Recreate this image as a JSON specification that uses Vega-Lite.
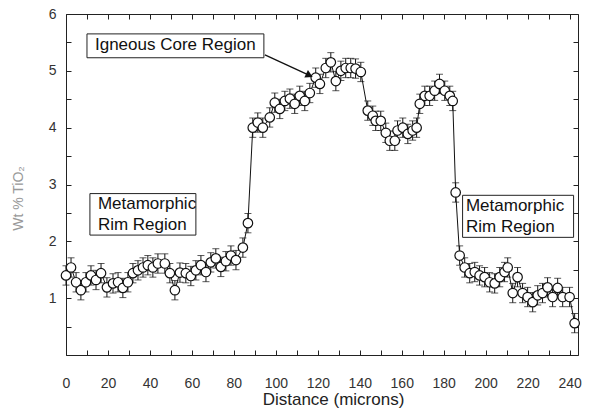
{
  "$schema": "https://vega.github.io/schema/vega-lite/v6.json",
  "width": 512,
  "height": 341,
  "autosize": {"type": "none"},
  "padding": {"left": 66, "top": 14, "right": 11, "bottom": 63},
  "background": "white",
  "config": {
    "font": "Liberation Sans",
    "view": {"stroke": "#222", "strokeWidth": 1},
    "axis": {"grid": false, "domain": false, "tickColor": "#222", "labelColor": "#333", "labelFont": "Liberation Sans", "titleFont": "Liberation Sans", "titleFontWeight": "normal"}
  },
  "resolve": {"axis": {"x": "independent", "y": "independent"}},
  "datasets": {
    "pts": [
      {"d": 0, "v": 1.40, "e": 0.17}, {"d": 2.4, "v": 1.54, "e": 0.17}, {"d": 4.8, "v": 1.28, "e": 0.17}, {"d": 7.1, "v": 1.14, "e": 0.17},
      {"d": 9.5, "v": 1.28, "e": 0.17}, {"d": 11.9, "v": 1.40, "e": 0.17}, {"d": 14.3, "v": 1.32, "e": 0.17}, {"d": 16.7, "v": 1.44, "e": 0.17},
      {"d": 19.5, "v": 1.19, "e": 0.17}, {"d": 22.4, "v": 1.26, "e": 0.17}, {"d": 24.8, "v": 1.28, "e": 0.17}, {"d": 27.1, "v": 1.18, "e": 0.17},
      {"d": 29.5, "v": 1.28, "e": 0.17}, {"d": 31.9, "v": 1.44, "e": 0.17}, {"d": 34.3, "v": 1.49, "e": 0.17}, {"d": 36.7, "v": 1.54, "e": 0.17},
      {"d": 39.0, "v": 1.58, "e": 0.17}, {"d": 41.4, "v": 1.54, "e": 0.17}, {"d": 43.8, "v": 1.61, "e": 0.17}, {"d": 47.1, "v": 1.61, "e": 0.17},
      {"d": 49.5, "v": 1.44, "e": 0.17}, {"d": 51.9, "v": 1.14, "e": 0.17}, {"d": 54.3, "v": 1.45, "e": 0.17}, {"d": 57.1, "v": 1.44, "e": 0.17},
      {"d": 59.5, "v": 1.39, "e": 0.17}, {"d": 61.9, "v": 1.49, "e": 0.17}, {"d": 64.3, "v": 1.58, "e": 0.17}, {"d": 66.7, "v": 1.46, "e": 0.17},
      {"d": 69.0, "v": 1.63, "e": 0.17}, {"d": 71.4, "v": 1.70, "e": 0.17}, {"d": 73.8, "v": 1.55, "e": 0.17}, {"d": 76.2, "v": 1.65, "e": 0.17},
      {"d": 78.6, "v": 1.75, "e": 0.17}, {"d": 81.0, "v": 1.67, "e": 0.17}, {"d": 84.3, "v": 1.89, "e": 0.17}, {"d": 86.7, "v": 2.32, "e": 0.17},
      {"d": 89.0, "v": 4.00, "e": 0.17}, {"d": 91.4, "v": 4.09, "e": 0.17}, {"d": 93.8, "v": 4.00, "e": 0.17}, {"d": 97.1, "v": 4.18, "e": 0.17},
      {"d": 99.5, "v": 4.44, "e": 0.17}, {"d": 101.9, "v": 4.33, "e": 0.17}, {"d": 104.3, "v": 4.47, "e": 0.17}, {"d": 106.7, "v": 4.51, "e": 0.17},
      {"d": 109.0, "v": 4.42, "e": 0.17}, {"d": 111.4, "v": 4.56, "e": 0.17}, {"d": 113.8, "v": 4.47, "e": 0.17}, {"d": 116.2, "v": 4.61, "e": 0.17},
      {"d": 119.0, "v": 4.88, "e": 0.17}, {"d": 121.0, "v": 4.77, "e": 0.17}, {"d": 123.8, "v": 5.05, "e": 0.17}, {"d": 126.2, "v": 5.15, "e": 0.17},
      {"d": 128.6, "v": 4.82, "e": 0.17}, {"d": 131.0, "v": 5.00, "e": 0.17}, {"d": 133.3, "v": 5.05, "e": 0.17}, {"d": 135.7, "v": 5.05, "e": 0.17},
      {"d": 138.0, "v": 5.04, "e": 0.17}, {"d": 140.5, "v": 4.98, "e": 0.17}, {"d": 143.8, "v": 4.30, "e": 0.17}, {"d": 146.2, "v": 4.21, "e": 0.17},
      {"d": 147.6, "v": 4.12, "e": 0.17}, {"d": 150.0, "v": 4.12, "e": 0.17}, {"d": 152.4, "v": 3.91, "e": 0.17}, {"d": 154.3, "v": 3.77, "e": 0.17},
      {"d": 156.7, "v": 3.77, "e": 0.17}, {"d": 158.0, "v": 3.95, "e": 0.17}, {"d": 160.5, "v": 4.00, "e": 0.17}, {"d": 162.9, "v": 3.89, "e": 0.17},
      {"d": 165.2, "v": 3.95, "e": 0.17}, {"d": 167.1, "v": 4.00, "e": 0.17}, {"d": 168.6, "v": 4.42, "e": 0.17}, {"d": 171.0, "v": 4.56, "e": 0.17},
      {"d": 173.3, "v": 4.56, "e": 0.17}, {"d": 175.7, "v": 4.65, "e": 0.17}, {"d": 178.0, "v": 4.77, "e": 0.17}, {"d": 180.5, "v": 4.65, "e": 0.17},
      {"d": 182.9, "v": 4.56, "e": 0.17}, {"d": 184.3, "v": 4.47, "e": 0.17}, {"d": 185.7, "v": 2.86, "e": 0.17}, {"d": 187.6, "v": 1.75, "e": 0.17},
      {"d": 190.0, "v": 1.54, "e": 0.17}, {"d": 192.4, "v": 1.44, "e": 0.17}, {"d": 194.8, "v": 1.46, "e": 0.17}, {"d": 197.1, "v": 1.40, "e": 0.17},
      {"d": 199.5, "v": 1.37, "e": 0.17}, {"d": 201.9, "v": 1.28, "e": 0.17}, {"d": 204.3, "v": 1.26, "e": 0.17}, {"d": 206.7, "v": 1.37, "e": 0.17},
      {"d": 209.0, "v": 1.46, "e": 0.17}, {"d": 210.5, "v": 1.54, "e": 0.17}, {"d": 212.9, "v": 1.09, "e": 0.17}, {"d": 215.2, "v": 1.37, "e": 0.17},
      {"d": 217.6, "v": 1.09, "e": 0.17}, {"d": 220.0, "v": 1.02, "e": 0.17}, {"d": 222.4, "v": 0.93, "e": 0.17}, {"d": 224.8, "v": 1.05, "e": 0.17},
      {"d": 227.1, "v": 1.09, "e": 0.17}, {"d": 229.5, "v": 1.19, "e": 0.17}, {"d": 231.9, "v": 1.02, "e": 0.17}, {"d": 234.3, "v": 1.18, "e": 0.17},
      {"d": 236.7, "v": 1.02, "e": 0.17}, {"d": 240.0, "v": 1.02, "e": 0.17}, {"d": 242.4, "v": 0.56, "e": 0.17}
    ],
    "boxes": [
      {"d": 10.0, "d2": 94.3, "v": 5.65, "v2": 5.23},
      {"d": 11.4, "d2": 61.9, "v": 2.84, "v2": 2.11},
      {"d": 189.0, "d2": 241.9, "v": 2.81, "v2": 2.07}
    ],
    "labels": [
      {"d": 13.8, "v": 5.45, "t": "Igneous Core Region"},
      {"d": 15.2, "v": 2.65, "t": "Metamorphic\nRim Region"},
      {"d": 190.6, "v": 2.63, "t": "Metamorphic\nRim Region"}
    ],
    "arrow": [{"d": 94.8, "v": 5.28, "d2": 116.0, "v2": 4.92}]
  },
  "layer": [
    {
      "data": {"name": "pts"},
      "mark": {"type": "errorbar", "color": "#111", "thickness": 1, "ticks": {"size": 7, "thickness": 1}},
      "encoding": {
        "x": {"field": "d", "type": "quantitative", "scale": {"domain": [0, 244], "nice": false, "zero": false}, "axis": null},
        "y": {"field": "v", "type": "quantitative", "scale": {"domain": [0, 6], "nice": false}, "axis": null},
        "yError": {"field": "e"}
      }
    },
    {
      "data": {"name": "pts"},
      "mark": {"type": "line", "color": "#111", "strokeWidth": 1},
      "encoding": {
        "x": {"field": "d", "type": "quantitative", "scale": {"domain": [0, 244], "nice": false, "zero": false},
          "axis": {"orient": "bottom", "title": "Distance (microns)", "values": [0,10,20,30,40,50,60,70,80,90,100,110,120,130,140,150,160,170,180,190,200,210,220,230,240],
            "labelExpr": "datum.value % 20 === 0 ? datum.label : ''", "tickSize": -5, "labelPadding": 26, "labelFontSize": 14, "labelFlush": false,
            "titleFontSize": 17, "titleColor": "#222", "titlePadding": 1, "titleX": 267}},
        "y": {"field": "v", "type": "quantitative", "scale": {"domain": [0, 6], "nice": false},
          "axis": {"orient": "left", "title": "Wt % TiO₂", "values": [0,0.5,1,1.5,2,2.5,3,3.5,4,4.5,5,5.5,6],
            "labelExpr": "datum.value % 1 === 0 && datum.value > 0 ? format(datum.value, 'd') : ''", "tickSize": -5, "labelPadding": 15, "labelFontSize": 14, "labelFlush": false,
            "titleFontSize": 14, "titleColor": "#999", "titleX": -48, "titleY": 184, "titleAngle": -90, "titleAlign": "center", "titleBaseline": "middle"}}
      }
    },
    {
      "data": {"name": "pts"},
      "mark": {"type": "point", "shape": "circle", "filled": false, "fill": "white", "fillOpacity": 1, "stroke": "#111", "strokeWidth": 1.2, "size": 90, "opacity": 1},
      "encoding": {
        "x": {"field": "d", "type": "quantitative", "scale": {"domain": [0, 244], "nice": false, "zero": false},
          "axis": {"orient": "top", "title": null, "values": [0,10,20,30,40,50,60,70,80,90,100,110,120,130,140,150,160,170,180,190,200,210,220,230,240], "labels": false, "tickSize": -5}},
        "y": {"field": "v", "type": "quantitative", "scale": {"domain": [0, 6], "nice": false},
          "axis": {"orient": "right", "title": null, "values": [0,0.5,1,1.5,2,2.5,3,3.5,4,4.5,5,5.5,6], "labels": false, "tickSize": -5}}
      }
    },
    {
      "data": {"name": "boxes"},
      "mark": {"type": "rect", "fill": "white", "stroke": "#222", "strokeWidth": 1},
      "encoding": {
        "x": {"field": "d", "type": "quantitative", "scale": {"domain": [0, 244], "nice": false, "zero": false}, "axis": null},
        "x2": {"field": "d2"},
        "y": {"field": "v", "type": "quantitative", "scale": {"domain": [0, 6], "nice": false}, "axis": null},
        "y2": {"field": "v2"}
      }
    },
    {
      "data": {"name": "labels"},
      "mark": {"type": "text", "align": "left", "baseline": "middle", "fontSize": 17, "lineHeight": 21, "lineBreak": "\n", "color": "#111", "font": "Liberation Sans"},
      "encoding": {
        "x": {"field": "d", "type": "quantitative", "scale": {"domain": [0, 244], "nice": false, "zero": false}, "axis": null},
        "y": {"field": "v", "type": "quantitative", "scale": {"domain": [0, 6], "nice": false}, "axis": null},
        "text": {"field": "t"}
      }
    },
    {
      "data": {"name": "arrow"},
      "mark": {"type": "rule", "color": "#111", "strokeWidth": 1.3},
      "encoding": {
        "x": {"field": "d", "type": "quantitative", "scale": {"domain": [0, 244], "nice": false, "zero": false}, "axis": null},
        "y": {"field": "v", "type": "quantitative", "scale": {"domain": [0, 6], "nice": false}, "axis": null},
        "x2": {"field": "d2"},
        "y2": {"field": "v2"}
      }
    },
    {
      "data": {"name": "arrow"},
      "mark": {"type": "point", "shape": "triangle-right", "filled": true, "color": "#111", "size": 70, "angle": 25.6, "opacity": 1},
      "encoding": {
        "x": {"field": "d2", "type": "quantitative", "scale": {"domain": [0, 244], "nice": false, "zero": false}, "axis": null},
        "y": {"field": "v2", "type": "quantitative", "scale": {"domain": [0, 6], "nice": false}, "axis": null}
      }
    }
  ]
}
